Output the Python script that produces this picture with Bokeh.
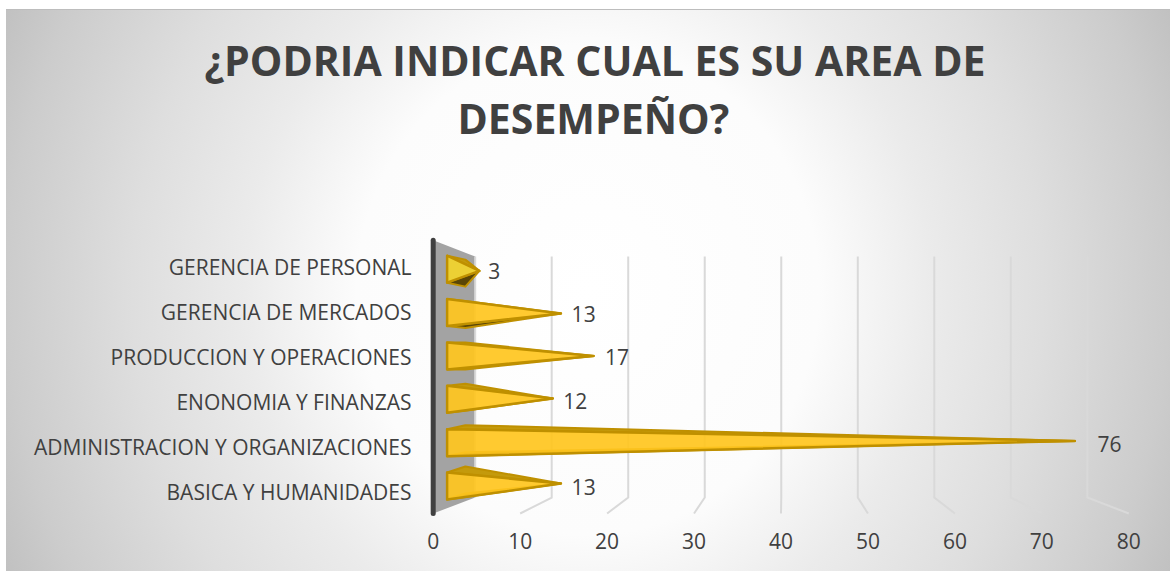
from bokeh.plotting import figure
from bokeh.models import Range1d, FixedTicker, Title, ColumnDataSource
from bokeh.embed import file_html
from bokeh.resources import INLINE
from bokeh.core.properties import value

TITLE_LINES = ["¿PODRIA INDICAR CUAL ES SU AREA DE", "DESEMPEÑO?"]
categories = ["BASICA Y HUMANIDADES", "ADMINISTRACION Y ORGANIZACIONES", "ENONOMIA Y FINANZAS",
              "PRODUCCION Y OPERACIONES", "GERENCIA DE MERCADOS", "GERENCIA DE PERSONAL"]
values = [13, 76, 12, 17, 13, 3]
value_ticks = [0, 10, 20, 30, 40, 50, 60, 70, 80]
front_colors = ["#ffc61e", "#ffc61e", "#ffc61e", "#ffc61e", "#ffc61e", "#f2d42a"]

TEXT = "#404040"
FONT = "Open Sans"

p = figure(width=1164, height=562, output_backend="svg", toolbar_location=None,
           x_range=Range1d(-1, 81), y_range=Range1d(-0.2, 8.178),
           min_border_left=418, min_border_right=33, min_border_top=136, min_border_bottom=49,
           border_fill_color=None, background_fill_color=None, outline_line_color=None,
           margin=(9, 0, 0, 6))
p.styles = {"background": "radial-gradient(ellipse 660px 700px at 50% 50%, #ffffff 0%, #fcfcfc 35%, "
                          "#ebebeb 52%, #dedede 69%, #cccccc 88%, #bdbdbd 100%)",
            "box-shadow": "inset 0 1px 0 #bdbdbd"}
p.grid.visible = False

def back_x(v):
    return 4.83 + 0.88 * v

def tip_x(v):
    return 2.5 + 0.938 * v

def row_y(i):
    return 0.61 + 0.964 * i

FLOOR_BACK, WALL_TOP, WALL_BACK_TOP = 0.355, 6.07, 5.71

p.patch([0, back_x(0), back_x(0), 0], [0, FLOOR_BACK, WALL_BACK_TOP, WALL_TOP],
        fill_color="#a3a3a3", line_color=None)

gx = [[back_x(t), back_x(t), t] for t in value_ticks]
gy = [[WALL_BACK_TOP, FLOOR_BACK, 0] for t in value_ticks]
gx[0], gy[0] = gx[0][:2], gy[0][:2]
p.multi_line(gx, gy, line_color="#d9d9d9", line_width=2, line_join="miter")

p.line([0, 0], [0, WALL_TOP], line_color="#404040", line_width=5, line_cap="round")

BASE_X, DEPTH_X, HALF = 1.6, 3.7, 0.3
for i, v in enumerate(values):
    yc = row_y(i)
    tx = tip_x(v)
    lean = 3.51 - yc
    ty = yc + lean * 0.02
    back = lean * 0.046
    p.patch([BASE_X, DEPTH_X, tx], [yc + HALF, yc + HALF + back, ty],
            fill_color="#c49a0c", line_color="#bf9000", line_width=2, line_join="round")
    p.patch([BASE_X, DEPTH_X, tx], [yc - HALF, yc - HALF + back, ty],
            fill_color="#5a4606", line_color="#bf9000", line_width=2, line_join="round")
    p.patch([BASE_X, tx, BASE_X], [yc + HALF, ty, yc - HALF],
            fill_color=front_colors[i], fill_alpha=0.92, line_color="#bf9000", line_width=2.5,
            line_join="round")

lab = ColumnDataSource(dict(x=[3.44 + 0.96 * v for v in values],
                            y=[row_y(i) - 0.03 for i in range(len(values))],
                            t=[str(v) for v in values]))
p.text("x", "y", text="t", source=lab, text_font=value(FONT), text_font_size="21px",
       text_color=TEXT, text_baseline="middle", text_align="left")

for line, offset in zip(reversed(TITLE_LINES), [33, -220]):
    p.add_layout(Title(text=line, text_font=FONT, text_font_size="41px", text_font_style="bold",
                       text_color=TEXT, align="left", offset=offset, standoff=0), "above")

p.xaxis.ticker = FixedTicker(ticks=value_ticks)
p.yaxis.ticker = FixedTicker(ticks=[i + 0.48 for i in range(len(categories))])
p.yaxis.major_label_overrides = {i + 0.48: c for i, c in enumerate(categories)}
for ax in (p.xaxis[0], p.yaxis[0]):
    ax.axis_line_color = None
    ax.major_tick_line_color = None
    ax.minor_tick_line_color = None
    ax.major_label_text_font = FONT
    ax.major_label_text_font_size = "21px"
    ax.major_label_text_color = TEXT
p.xaxis.major_label_standoff = 4
p.yaxis.major_label_standoff = 7

open("out.html", "w").write(file_html(p, INLINE))
